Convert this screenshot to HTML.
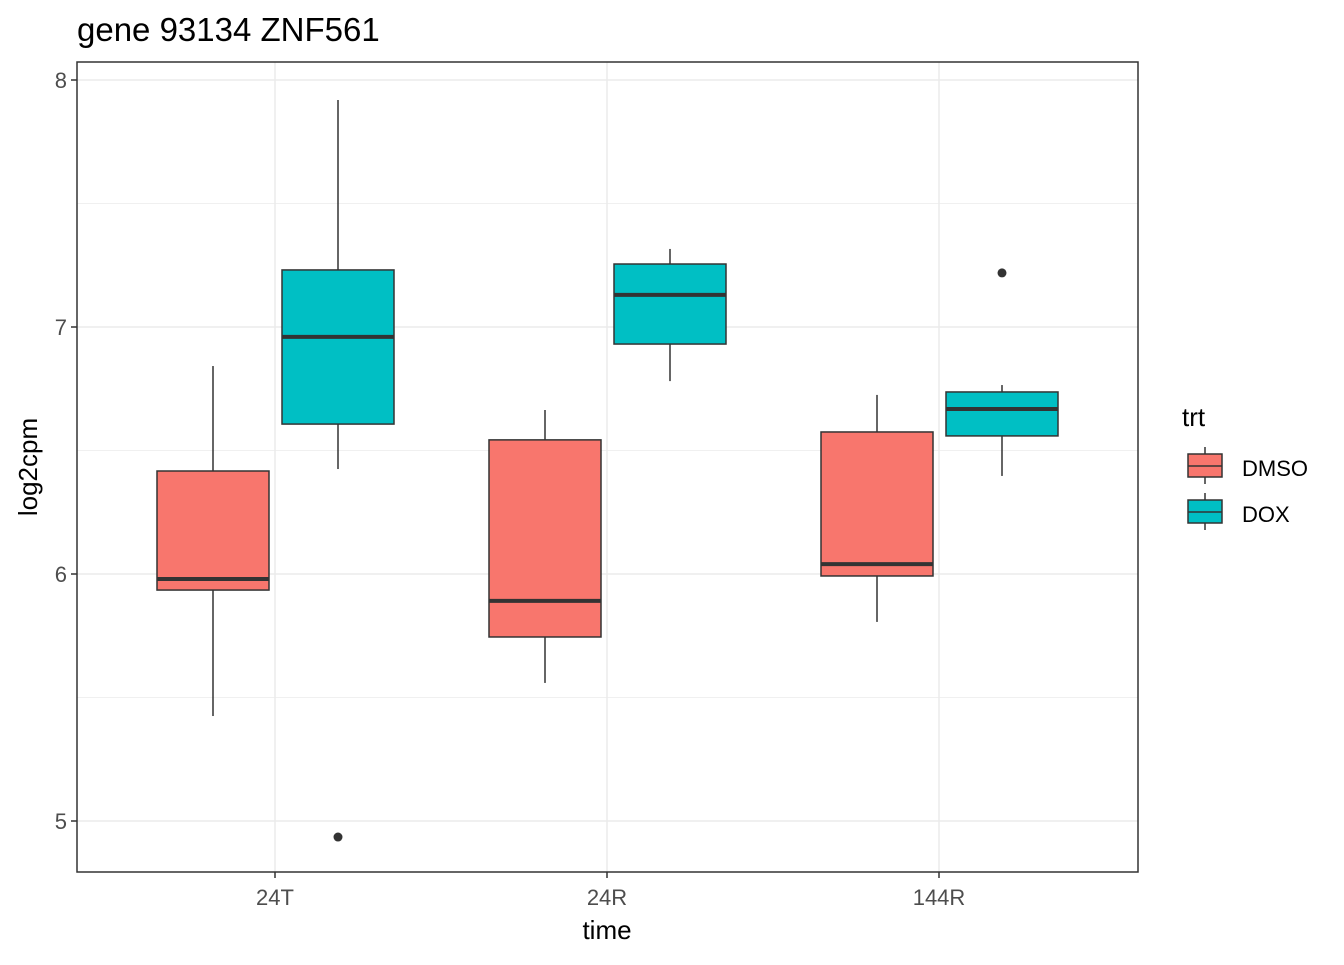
<!DOCTYPE html>
<html><head><meta charset="utf-8"><style>
body{margin:0;background:#fff;font-family:"Liberation Sans",Arial,sans-serif}
</style></head><body>
<svg id="chart" width="1344" height="960" xmlns="http://www.w3.org/2000/svg" font-family="Liberation Sans, Arial, sans-serif"></svg>
<script>
const categories=["24T","24R","144R"];
const groups=["DMSO","DOX"];
const lowerWhisker=[[5.425,6.425],[5.559,6.781],[5.806,6.397]];
const q1=[[5.935,6.607],[5.745,6.931],[5.992,6.559]];
const medians=[[5.980,6.960],[5.891,7.130],[6.040,6.668]];
const q3=[[6.417,7.231],[6.543,7.255],[6.575,6.737]];
const upperWhisker=[[6.842,7.919],[6.664,7.316],[6.725,6.765]];
const outliers=[[[],[4.935]],[[],[]],[[],[7.219]]];
const yTicks=[5,6,7,8];
const colors={DMSO:"#F8766D",DOX:"#00BFC4"};

const svg=document.getElementById('chart');
const NS="http://www.w3.org/2000/svg";
const P={l:77,r:1138,t:62,b:872};
const y=v=>80+(8-v)*247;
const xc=i=>275+i*332;
const dodge=g=>g===0?-62:63;
const BW=112;
function el(tag,attrs,parent){const e=document.createElementNS(NS,tag);for(const k in attrs)e.setAttribute(k,attrs[k]);(parent||svg).appendChild(e);return e;}

for(let v=4.5;v<=8;v+=0.5){if(y(v)<P.t||y(v)>P.b)continue;const major=Number.isInteger(v);
 const g=el('line',{x1:P.l,x2:P.r,y1:y(v),y2:y(v),stroke:"#ebebeb","stroke-width":major?1.5:0.8});
 
 }
categories.forEach((c,i)=>{const g=el('line',{x1:xc(i),x2:xc(i),y1:P.t,y2:P.b,stroke:"#ebebeb","stroke-width":1.5});
 
 });

categories.forEach((c,i)=>{groups.forEach((gname,g)=>{
 const cx=xc(i)+dodge(g);
 const grp=el('g',{});
 
 
 el('line',{x1:cx,x2:cx,y1:y(upperWhisker[i][g]),y2:y(q3[i][g]),stroke:"#333","stroke-width":1.5},grp);
 el('line',{x1:cx,x2:cx,y1:y(q1[i][g]),y2:y(lowerWhisker[i][g]),stroke:"#333","stroke-width":1.5},grp);
 el('rect',{x:cx-BW/2,y:y(q3[i][g]),width:BW,height:y(q1[i][g])-y(q3[i][g]),fill:colors[gname],stroke:"#333","stroke-width":1.5},grp);
 el('line',{x1:cx-BW/2,x2:cx+BW/2,y1:y(medians[i][g]),y2:y(medians[i][g]),stroke:"#333","stroke-width":4},grp);
 outliers[i][g].forEach(o=>{const d=el('circle',{cx:cx,cy:y(o),r:4.5,fill:"#333"},grp);
  
  });
});});

const border=el('rect',{x:P.l,y:P.t,width:P.r-P.l,height:P.b-P.t,fill:"none",stroke:"#333","stroke-width":1.5});



yTicks.forEach(v=>{el('line',{x1:P.l-6,x2:P.l,y1:y(v),y2:y(v),stroke:"#333","stroke-width":1.5});
 const t=el('text',{x:P.l-10,y:y(v)+8,"text-anchor":"end","font-size":22,fill:"#4d4d4d"});t.textContent=v;
 
 });
categories.forEach((c,i)=>{el('line',{x1:xc(i),x2:xc(i),y1:P.b,y2:P.b+6,stroke:"#333","stroke-width":1.5});
 const t=el('text',{x:xc(i),y:905,"text-anchor":"middle","font-size":22,fill:"#4d4d4d"});t.textContent=c;
 
 });
</script>
<svg style="position:absolute;left:0;top:0" width="1344" height="960" font-family="Liberation Sans, Arial, sans-serif" pointer-events="none">
<text x="77" y="41" font-size="33" fill="#000">gene 93134 ZNF561</text>
<text x="607" y="939" font-size="26" text-anchor="middle">time</text>
<text transform="translate(37,467) rotate(-90)" font-size="26" text-anchor="middle">log2cpm</text>
<g>
<text x="1182" y="426" font-size="26">trt</text>
<g>
<line x1="1205" x2="1205" y1="447" y2="484" stroke="#333" stroke-width="1.5"/>
<rect x="1188" y="454" width="34" height="23" fill="#F8766D" stroke="#333" stroke-width="1.5"/>
<line x1="1188" x2="1222" y1="466" y2="466" stroke="#333" stroke-width="1.5"/>
<text x="1242" y="476" font-size="22">DMSO</text></g>
<g>
<line x1="1205" x2="1205" y1="493" y2="530" stroke="#333" stroke-width="1.5"/>
<rect x="1188" y="500" width="34" height="23" fill="#00BFC4" stroke="#333" stroke-width="1.5"/>
<line x1="1188" x2="1222" y1="512" y2="512" stroke="#333" stroke-width="1.5"/>
<text x="1242" y="522" font-size="22">DOX</text></g>
</g>
</svg>
</body></html>
